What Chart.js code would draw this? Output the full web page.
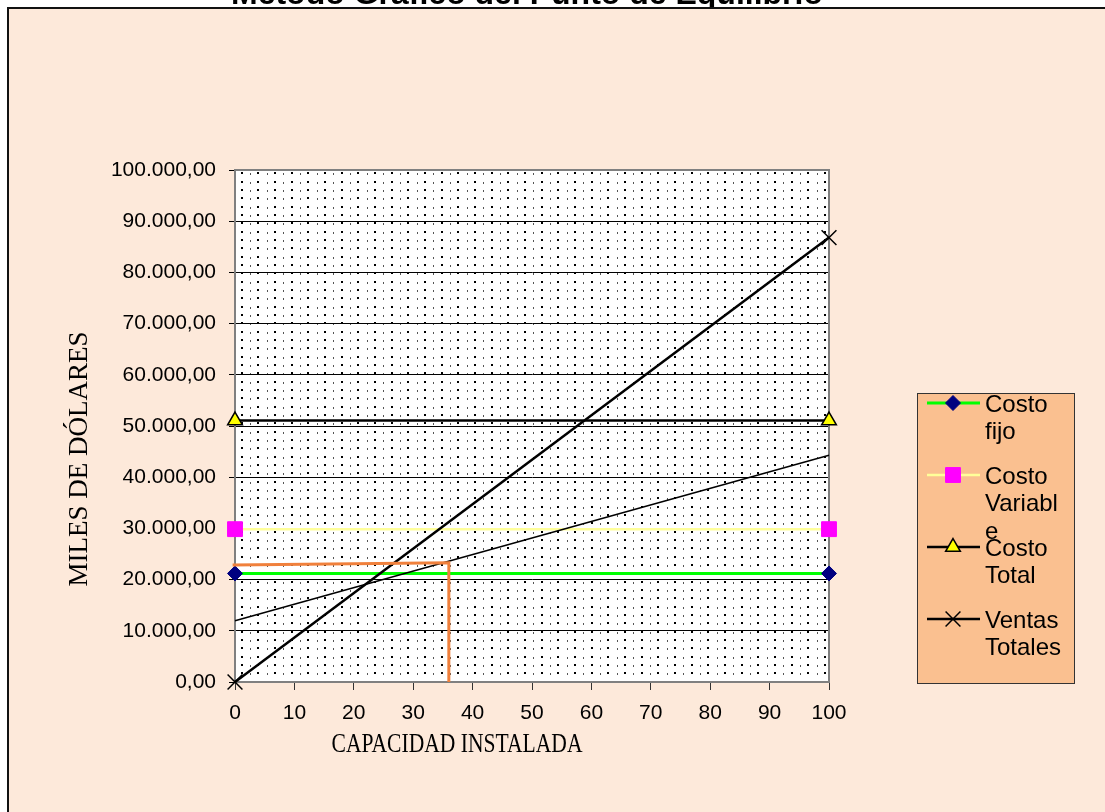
<!DOCTYPE html>
<html>
<head>
<meta charset="utf-8">
<script src="https://cdn.jsdelivr.net/npm/chart.js@4.4.1/dist/chart.umd.min.js"></script>
<style>
  html, body { margin: 0; padding: 0; background: #fff; overflow: hidden; }
  canvas { display: block; }
</style>
</head>
<body>
<canvas id="grafico" width="1105" height="812"></canvas>
<script>
// Textos
const titulo = 'Método Gráfico del Punto de Equilibrio';
const tituloEjeX = 'CAPACIDAD INSTALADA';
const tituloEjeY = 'MILES DE DÓLARES';

// Datos (capacidad instalada en %, valores en miles de dólares)
const capacidad = [0, 100];
const costoFijo = [21200, 21200];
const costoVariable = [29850, 29850];
const costoTotal = [51050, 51050];
const ventasTotales = [0, 86800];
const costoTotalRecta = [11950, 44300];
const equilibrioX = [-0.4, 36, 36];
const equilibrioY = [22850, 23300, 0];

// Ejes
const valoresEjeX = [0, 10, 20, 30, 40, 50, 60, 70, 80, 90, 100];
const valoresEjeY = [0, 10000, 20000, 30000, 40000, 50000, 60000, 70000, 80000, 90000, 100000];
const etiquetasEjeY = ['0,00', '10.000,00', '20.000,00', '30.000,00', '40.000,00', '50.000,00',
  '60.000,00', '70.000,00', '80.000,00', '90.000,00', '100.000,00'];

// Orden de las series en la leyenda
const ordenLeyenda = ['Costo fijo', 'Costo Variable', 'Costo Total', 'Ventas Totales'];

const puntos = (xs, ys) => xs.map((x, i) => ({ x: x, y: ys[i] }));

// Fondo, marco exterior, título y trama punteada del área de trazado
const fondo = {
  id: 'fondo',
  beforeDraw(chart) {
    const { ctx, chartArea: a, width, height } = chart;
    ctx.save();
    ctx.fillStyle = '#fff';
    ctx.fillRect(0, 0, width, height);
    ctx.fillStyle = '#000';
    ctx.font = 'bold 32px "Liberation Sans", Arial, sans-serif';
    ctx.textAlign = 'center';
    ctx.textBaseline = 'alphabetic';
    ctx.fillText(titulo, 527, 3.5);
    ctx.fillStyle = '#FDE9DA';
    ctx.fillRect(8, 7, width, height);
    ctx.strokeStyle = '#111';
    ctx.lineWidth = 2;
    ctx.beginPath();
    ctx.moveTo(8, height + 4);
    ctx.lineTo(8, 8);
    ctx.lineTo(width + 4, 8);
    ctx.stroke();

    ctx.fillStyle = '#fff';
    ctx.fillRect(a.left, a.top, a.right - a.left, a.bottom - a.top);
    const paso = 50 / 3;
    const fila = 25 / 3;
    for (let y = a.top + 3.3; y < a.bottom - 1; y += fila) {
      for (let x = a.left + 6.7; x < a.right - 1; x += paso) {
        ctx.fillStyle = '#000';
        ctx.fillRect(Math.round(x) - 1, Math.round(y) - 1, 2, 2);
        const xs = x + paso / 2;
        if (xs < a.right - 1) {
          ctx.fillStyle = '#555';
          ctx.fillRect(Math.round(xs), Math.round(y), 1, 2);
        }
      }
    }
    ctx.restore();
  },
  beforeDatasetsDraw(chart) {
    const { ctx, chartArea: a } = chart;
    ctx.save();
    ctx.strokeStyle = '#808080';
    ctx.lineWidth = 2;
    ctx.beginPath();
    ctx.moveTo(a.left, a.top);
    ctx.lineTo(a.right, a.top);
    ctx.lineTo(a.right, a.bottom);
    ctx.stroke();
    ctx.restore();
  }
};

// Títulos de los ejes
const titulosEjes = {
  id: 'titulosEjes',
  afterDraw(chart) {
    const ctx = chart.ctx;
    ctx.save();
    ctx.fillStyle = '#000';
    ctx.font = '27px "Liberation Serif", "Times New Roman", serif';
    ctx.textAlign = 'center';
    ctx.textBaseline = 'alphabetic';
    ctx.fillText(tituloEjeX, 457, 752, 251);
    ctx.translate(87, 459);
    ctx.rotate(-Math.PI / 2);
    ctx.fillText(tituloEjeY, 0, 0);
    ctx.restore();
  }
};

// Leyenda con el texto ajustado al ancho del recuadro
const leyenda = {
  id: 'leyenda',
  afterDraw(chart) {
    const ctx = chart.ctx;
    const caja = { x: 917.5, y: 393.5, w: 157, h: 290 };
    ctx.save();
    ctx.fillStyle = '#FAC090';
    ctx.fillRect(caja.x, caja.y, caja.w, caja.h);
    ctx.strokeStyle = '#333';
    ctx.lineWidth = 1;
    ctx.strokeRect(caja.x, caja.y, caja.w, caja.h);

    ctx.font = '24px "Liberation Sans", Arial, sans-serif';
    const anchoMax = 84;
    const ajustar = (texto) => {
      const lineas = [];
      texto.split(' ').forEach(palabra => {
        let resto = palabra;
        while (ctx.measureText(resto).width > anchoMax) {
          let n = resto.length - 1;
          while (n > 1 && ctx.measureText(resto.slice(0, n)).width > anchoMax) n--;
          lineas.push(resto.slice(0, n));
          resto = resto.slice(n);
        }
        lineas.push(resto);
      });
      return lineas;
    };

    const series = ordenLeyenda.map(nombre => chart.data.datasets.find(d => d.label === nombre));
    series.forEach((ds, i) => {
      const y = 403 + i * 72;
      ctx.strokeStyle = ds.borderColor;
      ctx.lineWidth = ds.borderWidth;
      ctx.beginPath();
      ctx.moveTo(927, y);
      ctx.lineTo(980, y);
      ctx.stroke();
      ctx.fillStyle = ds.pointBackgroundColor;
      ctx.strokeStyle = ds.pointBorderColor;
      ctx.lineWidth = ds.pointBorderWidth;
      Chart.helpers.drawPoint(ctx, { pointStyle: ds.pointStyle, radius: ds.pointRadius, borderWidth: ds.pointBorderWidth, rotation: 0 }, 953, y);
      ctx.fillStyle = '#000';
      ctx.textAlign = 'left';
      ctx.textBaseline = 'alphabetic';
      ajustar(ds.label).forEach((linea, k) => {
        ctx.fillText(linea, 985, y + 8.5 + k * 27.5);
      });
    });
    ctx.restore();
  }
};

new Chart(document.getElementById('grafico'), {
  type: 'line',
  data: {
    datasets: [
      {
        label: 'Punto de equilibrio',
        data: puntos(equilibrioX, equilibrioY),
        borderColor: '#F0803C', borderWidth: 3, pointRadius: 0,
        order: 0, clip: false
      },
      {
        label: 'Ventas Totales',
        data: puntos(capacidad, ventasTotales),
        borderColor: '#000', borderWidth: 2.5,
        pointStyle: 'crossRot', pointRadius: 10.5,
        pointBackgroundColor: '#000', pointBorderColor: '#000', pointBorderWidth: 1.5,
        order: 1, clip: false
      },
      {
        label: 'Costo Total (recta)',
        data: puntos(capacidad, costoTotalRecta),
        borderColor: '#000', borderWidth: 1.5, pointRadius: 0,
        order: 2, clip: false
      },
      {
        label: 'Costo Total',
        data: puntos(capacidad, costoTotal),
        borderColor: '#000', borderWidth: 2.5,
        pointStyle: 'triangle', pointRadius: 8.5,
        pointBackgroundColor: '#FFFF00', pointBorderColor: '#000', pointBorderWidth: 1.5,
        order: 3, clip: false
      },
      {
        label: 'Costo Variable',
        data: puntos(capacidad, costoVariable),
        borderColor: '#FFFF99', borderWidth: 2.5,
        pointStyle: 'rect', pointRadius: 10.5,
        pointBackgroundColor: '#FF00FF', pointBorderColor: '#FF00FF', pointBorderWidth: 1,
        order: 4, clip: false
      },
      {
        label: 'Costo fijo',
        data: puntos(capacidad, costoFijo),
        borderColor: '#00FF00', borderWidth: 3,
        pointStyle: 'rectRot', pointRadius: 7.5,
        pointBackgroundColor: '#000080', pointBorderColor: '#000080', pointBorderWidth: 1,
        order: 5, clip: false
      }
    ]
  },
  options: {
    responsive: false,
    animation: false,
    devicePixelRatio: 1,
    layout: { padding: { left: 0, top: 170, right: 276, bottom: 0 } },
    elements: { line: { tension: 0 } },
    plugins: {
      legend: { display: false },
      title: { display: false },
      tooltip: { enabled: false }
    },
    scales: {
      x: {
        type: 'linear',
        min: 0, max: 100,
        afterFit(scale) { scale.height = 130; },
        afterBuildTicks(scale) { scale.ticks = valoresEjeX.map(v => ({ value: v })); },
        ticks: {
          color: '#000',
          padding: 11,
          maxRotation: 0,
          autoSkip: false,
          font: { family: '"Liberation Sans", Arial, sans-serif', size: 21 },
          callback: (v) => String(v)
        },
        grid: { drawOnChartArea: false, drawTicks: true, tickLength: 8, color: '#333', lineWidth: 1 },
        border: { color: '#808080', width: 2 }
      },
      y: {
        type: 'linear',
        min: 0, max: 100000,
        afterFit(scale) { scale.width = 235; },
        afterBuildTicks(scale) { scale.ticks = valoresEjeY.map(v => ({ value: v })); },
        ticks: {
          color: '#000',
          padding: 13,
          autoSkip: false,
          font: { family: '"Liberation Sans", Arial, sans-serif', size: 21 },
          callback: (v, i) => etiquetasEjeY[i]
        },
        grid: {
          drawTicks: true, tickLength: 6,
          color: (c) => (c.tick && (c.tick.value === 0 || c.tick.value === 100000)) ? 'rgba(0,0,0,0)' : '#000',
          tickColor: '#000',
          lineWidth: 1
        },
        border: { color: '#808080', width: 2 }
      }
    }
  },
  plugins: [fondo, titulosEjes, leyenda]
});
</script>
</body>
</html>
